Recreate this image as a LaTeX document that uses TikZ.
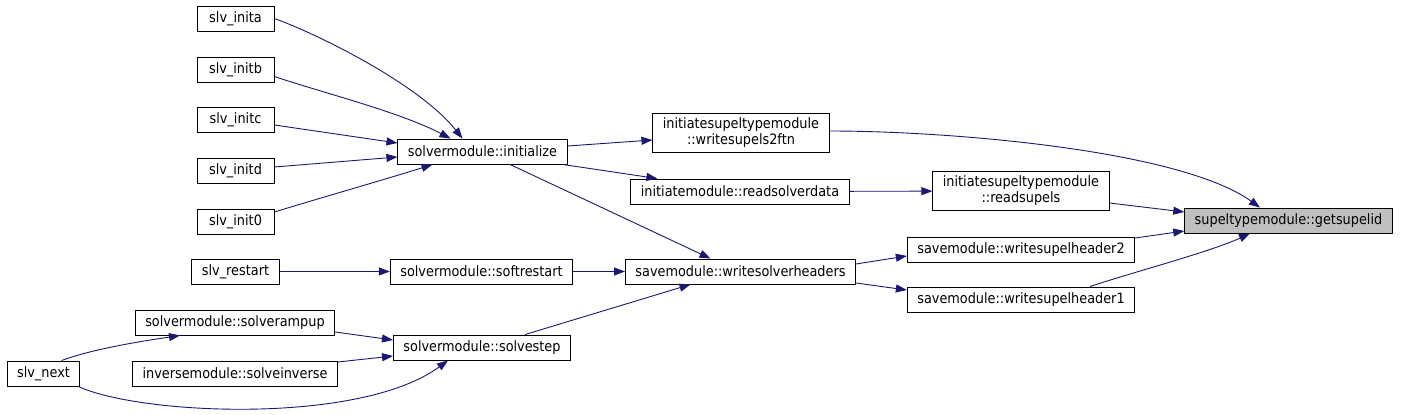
\documentclass[tikz,border=0pt]{standalone}
\usepackage{fontspec}
\setmainfont{DejaVu Sans Condensed}
\usetikzlibrary{arrows.meta}
\usepackage{xcolor}
\definecolor{edgeblue}{HTML}{191970}
\definecolor{focusgray}{HTML}{BFBFBF}

\begin{document}
\begin{tikzpicture}[x=1pt, y=-1pt,
  fn/.style={rectangle, draw, line width=0.9pt, fill=white, minimum height=25pt, inner xsep=10pt, inner ysep=4.5pt, font=\fontsize{14.3}{16}\selectfont, align=center},
  init/.style={fn, minimum width=77pt},
  call/.style={-{Triangle[length=11pt, width=8pt]}, edgeblue, line width=0.9pt}
]
  \useasboundingbox (0,0) rectangle (1401,415);
  % callers on the left
  \node[init] (inita) at (235.5,18.5) {slv\_inita};
  \node[init] (initb) at (235.5,69.5) {slv\_initb};
  \node[init] (initc) at (235.5,120) {slv\_initc};
  \node[init] (initd) at (235.5,170.5) {slv\_initd};
  \node[init] (init0) at (235.5,221.5) {slv\_init0};
  \node[fn] (restart) at (235.5,271.5) {slv\_restart};
  \node[fn] (rampup) at (235,322.5) {solvermodule::solverampup};
  \node[fn] (next) at (43.5,373.5) {slv\_next};
  \node[fn] (inverse) at (235,373.5) {inversemodule::solveinverse};
  % solvermodule
  \node[fn] (initialize) at (482.5,151.5) {solvermodule::initialize};
  \node[fn] (softrestart) at (481.5,271.5) {solvermodule::softrestart};
  \node[fn] (solvestep) at (482,347.5) {solvermodule::solvestep};
  % middle column
  \node[fn] (w2ftn) at (741,133) {initiatesupeltypemodule\\::writesupels2ftn};
  \node[fn] (readsolver) at (740,191.5) {initiatemodule::readsolverdata};
  \node[fn] (wheaders) at (740.5,271.5) {savemodule::writesolverheaders};
  \node[fn] (readsupels) at (1021,191) {initiatesupeltypemodule\\::readsupels};
  \node[fn] (header2) at (1021,249.5) {savemodule::writesupelheader2};
  \node[fn] (header1) at (1021,299.5) {savemodule::writesupelheader1};
  % the function itself
  \node[fn, fill=focusgray] (getsupelid) at (1288.5,220.5) {supeltypemodule::getsupelid};

  \draw[call] (inita.east) .. controls (320,35) and (420,85) .. ([xshift=-20pt]initialize.north);
  \draw[call] ([yshift=-7pt]initb.east) .. controls (320,92) and (400,112) .. ([xshift=-32pt]initialize.north);
  \draw[call] ([yshift=-5pt]initc.east) -- ([yshift=8.5pt]initialize.west);
  \draw[call] ([yshift=3.5pt]initd.east) -- ([yshift=-5.5pt]initialize.west);
  \draw[call] ([yshift=9.5pt]init0.east) .. controls (320,198) and (390,178) .. ([xshift=-50pt]initialize.south);
  \draw[call] (restart) -- (softrestart);
  \draw[call] (softrestart) -- (wheaders);
  \draw[call] ([yshift=-9.5pt]rampup.east) -- ([yshift=7.5pt]solvestep.west);
  \draw[call] ([yshift=11.5pt]inverse.east) -- ([yshift=-8.5pt]solvestep.west);
  \draw[call] ([xshift=18pt]next.north) .. controls (95,348) and (150,340) .. ([xshift=-55pt]rampup.south);
  \draw[call] ([xshift=-2pt]next.south east) .. controls (140,415) and (360,425) .. ([xshift=-34pt]solvestep.south);
  \draw[call] ([yshift=5.5pt]initialize.east) -- ([yshift=-7pt]w2ftn.west);
  \draw[call] ([xshift=-5pt]initialize.south east) -- ([xshift=27pt]readsolver.north west);
  \draw[call] ([xshift=27.5pt]initialize.south) -- ([xshift=-30pt]wheaders.north);
  \draw[call] ([xshift=43pt]solvestep.north) -- ([xshift=-50pt]wheaders.south);
  \draw[call] (readsolver) -- (readsupels);
  \draw[call] ([yshift=7.5pt]wheaders.east) -- ([yshift=-6.5pt]header2.west);
  \draw[call] ([yshift=-11.5pt]wheaders.east) -- ([yshift=9.5pt]header1.west);
  \draw[call] ([yshift=2pt]w2ftn.east) .. controls (950,131) and (1180,150) .. ([xshift=-28.5pt]getsupelid.north);
  \draw[call] ([yshift=-12pt]readsupels.east) -- ([yshift=8.5pt]getsupelid.west);
  \draw[call] ([yshift=11.5pt]header2.east) -- ([yshift=-10.5pt]getsupelid.west);
  \draw[call] ([xshift=69pt]header1.north) .. controls (1130,273) and (1210,252) .. ([xshift=-38.5pt]getsupelid.south);
\end{tikzpicture}
\end{document}
